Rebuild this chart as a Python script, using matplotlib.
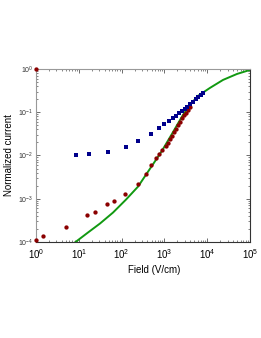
import matplotlib
matplotlib.use("Agg")
import matplotlib.pyplot as plt
import numpy as np

plt.rcParams['font.family'] = ['Liberation Sans', 'DejaVu Sans']

# red measured points (field V/cm, normalized current)
red_x = [1, 1, 1.46, 5.0, 15.5, 24, 45, 66, 120, 240, 370, 490, 640, 750, 870, 1090,
         1213, 1352, 1506, 1675, 1866, 2078, 2313, 2576, 2870, 3197, 3559, 3963]
red_y = [1.0, 1.1e-4, 1.4e-4, 2.2e-4, 4.1e-4, 5.0e-4, 7.4e-4, 8.7e-4, 1.3e-3, 2.2e-3,
         3.8e-3, 5.9e-3, 8.9e-3, 0.011, 0.0135, 0.0165,
         0.0199, 0.0239, 0.0286, 0.0344, 0.0412, 0.0497, 0.0594, 0.0716, 0.0844,
         0.0984, 0.114, 0.133]

# blue measured points
blue_x = [8.6, 17, 48, 126, 240, 490, 750, 979, 1281, 1563, 1866, 2229, 2618, 3027,
          3427, 3963, 4733, 5470, 6194, 6970, 7770]
blue_y = [0.0105, 0.011, 0.012, 0.016, 0.022, 0.032, 0.044, 0.054, 0.0634, 0.0731,
          0.0839, 0.0953, 0.1076, 0.1197, 0.1352, 0.1538, 0.1766, 0.2004, 0.2228,
          0.2475, 0.2755]

# green model curve
fit_x = [8.15, 16.4, 31.3, 63, 127, 242, 372, 513, 879, 1506, 2720, 3960, 6100,
         11600, 23400, 49700, 1e5]
fit_y = [9.8e-5, 1.66e-4, 2.68e-4, 4.8e-4, 9.6e-4, 1.91e-3, 3.61e-3, 5.8e-3, 0.0129,
         0.0318, 0.087, 0.148, 0.239, 0.365, 0.558, 0.767, 0.95]

fig = plt.figure(figsize=(2.61, 3.38), dpi=100)
ax = fig.add_axes([0.138, 0.284, 0.820, 0.512])

ax.plot(fit_x, fit_y, color='#119911', lw=1.4, zorder=2)
ax.plot(red_x, red_y, 'o', color='#8b0000', ms=3.1, mew=0, zorder=3, clip_on=False)
ax.plot(blue_x, blue_y, 's', color='#00008b', ms=2.2, mew=0, zorder=3)

ax.set_xscale('log')
ax.set_yscale('log')
ax.set_xlim(1, 1e5)
ax.set_ylim(1e-4, 1)

ax.tick_params(which='both', direction='in', top=True, right=True, colors='#555555')
ax.tick_params(which='major', length=3, width=0.6)
ax.tick_params(which='minor', length=1.5, width=0.5)
ax.tick_params(axis='x', labelsize=7, labelcolor='black', pad=4)
ax.tick_params(axis='y', labelsize=5, labelcolor='#333333', pad=2)

for side in ['top', 'left']:
    ax.spines[side].set_color('#999999')
for side in ['bottom', 'right']:
    ax.spines[side].set_color('#333333')
for s in ax.spines.values():
    s.set_linewidth(0.8)

ax.set_xlabel('Field (V/cm)', fontsize=7)
ax.xaxis.set_label_coords(0.55, -0.13)
ax.set_ylabel('Normalized current', fontsize=7, labelpad=3)

fig.savefig('out.png', dpi=100)
